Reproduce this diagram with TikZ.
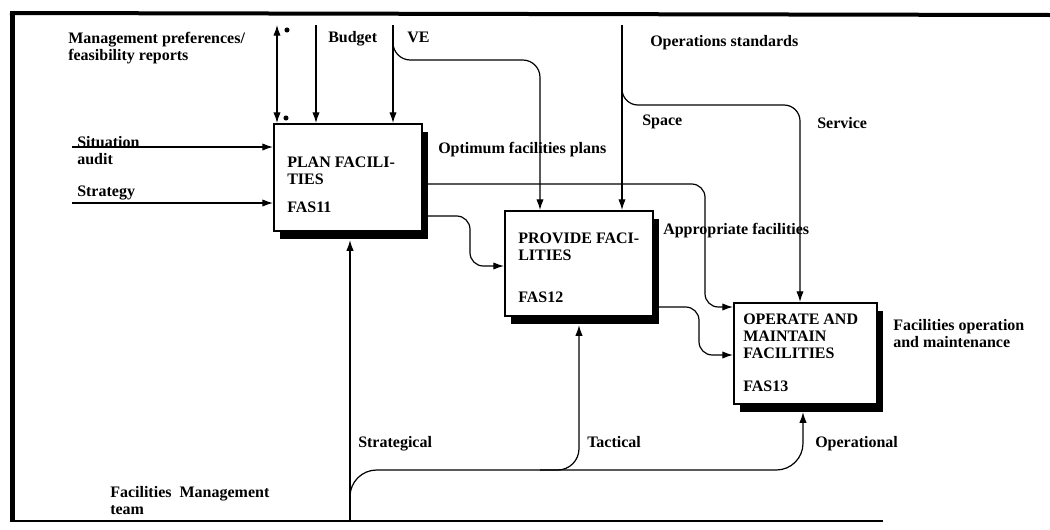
\documentclass[tikz,border=0pt]{standalone}
\usepackage{fontspec}
\setmainfont{Liberation Serif}
\usetikzlibrary{arrows.meta,shadows,calc}
\begin{document}
\begin{tikzpicture}[x=0.75pt,y=-0.75pt,
  lbl/.style={font=\fontsize{12}{12.75}\selectfont\bfseries, anchor=north west, inner sep=0pt, align=left},
  procbox/.style={draw, line width=1.6pt, fill=white, anchor=north west, inner sep=0pt,
     general shadow={fill=black, shadow xshift=4.5pt, shadow yshift=-6pt}},
  arr/.style={line width=0.9pt, -{Latex[length=8pt,width=5.5pt]}},
  darr/.style={line width=0.9pt, {Latex[length=8pt,width=5.5pt]}-{Latex[length=8pt,width=5.5pt]}},
  flow/.style={line width=0.9pt}]
\useasboundingbox (0,0) rectangle (1050,529);
\fill[white] (0,0) rectangle (1050,529);

% frame
\draw[line width=3pt] (10,13) -- (1050,15);
\draw[line width=3.75pt] (12.5,11) -- (12.5,522);
\draw[line width=1.8pt] (10,521) -- (883,521);

% activity boxes
\node[procbox, minimum width=111pt, minimum height=80.25pt] (p11) at (273,123) {};
\node[procbox, minimum width=111pt, minimum height=78.75pt] (p12) at (504,210) {};
\node[procbox, minimum width=107.25pt, minimum height=75.75pt] (p13) at (733,302) {};

% free ends
\coordinate (mpTop) at (277,25);
\coordinate (budTop) at (316,25);
\coordinate (veTop) at (393,25);
\coordinate (opsTop) at (622,25);
\coordinate (sitL) at (72,147);
\coordinate (strL) at (72,203);
\coordinate (fmBot) at (350,522);
\coordinate (veB) at (540,60);
\coordinate (svB) at (800,105);
\coordinate (tcB) at (579,470);
\coordinate (opB) at (803,470);

% controls
\draw[darr] (mpTop) -- (mpTop |- p11.north);
\fill (287,30) circle (1.9pt);
\fill (286,118) circle (1.9pt);
\draw[arr] (budTop) -- (budTop |- p11.north);
\draw[arr] (veTop) -- (veTop |- p11.north);
\draw[arr, rounded corners=13pt] (393,38) -- (393,60) -- (veB) -- (veB |- p12.north);
\draw[arr] (opsTop) -- (opsTop |- p12.north);
\draw[arr, rounded corners=12pt] (622,80) -- (622,105) -- (svB) -- (svB |- p13.north);

% inputs
\draw[arr] (sitL) -- (sitL -| p11.west);
\draw[arr] (strL) -- (strL -| p11.west);

% outputs
\draw[arr, rounded corners=10pt] ($(p11.north east)+(0,61)$) -- (705,184) -- (705,307) -- ($(p13.north west)+(0,5)$);
\draw[arr, rounded corners=10pt] ($(p11.north east)+(0,93)$) -- (470,216) -- (470,266) -- ($(p12.north west)+(0,56)$);
\draw[arr, rounded corners=10pt] ($(p12.north east)+(0,97)$) -- (699,307) -- (699,355) -- ($(p13.north west)+(0,53)$);

% mechanisms
\draw[arr] (fmBot) -- ($(fmBot |- p11.south)+(0,8)$);
\draw[arr, rounded corners=20pt] (350,512) -- (350,470) -- (opB) -- ($(opB |- p13.south)+(0,7)$);
\draw[arr, rounded corners=16pt] (540,470) -- (tcB) -- ($(tcB |- p12.south)+(0,8)$);

% box texts
\node[lbl] (t11) at (287,157) {PLAN FACILI-\\TIES};
\node[lbl] (i11) at (287,202) {FAS11};
\node[lbl] (t12) at (518,233) {PROVIDE FACI-\\LITIES};
\node[lbl] (i12) at (518,292) {FAS12};
\node[lbl] (t13) at (743,314) {OPERATE AND\\MAINTAIN\\FACILITIES};
\node[lbl] (i13) at (743,381) {FAS13};

% labels
\node[lbl] (lmp) at (68,32) {Management preferences/\\feasibility reports};
\node[lbl] (lbud) at (328,31) {Budget};
\node[lbl] (lve) at (407,32) {VE};
\node[lbl] (lops) at (650,35) {Operations standards};
\node[lbl] (lsp) at (642,115) {Space};
\node[lbl] (lsv) at (817,117) {Service};
\node[lbl] (lopt) at (438,142) {Optimum facilities plans};
\node[lbl] (lsit) at (77,136) {Situation\\audit};
\node[lbl] (lstr) at (77,186) {Strategy};
\node[lbl] (lapp) at (663,223) {Appropriate facilities};
\node[lbl] (lfom) at (893,319) {Facilities operation\\and maintenance};
\node[lbl] (lstg) at (358,436) {Strategical};
\node[lbl] (ltac) at (587,436) {Tactical};
\node[lbl] (lopl) at (815,436) {Operational};
\node[lbl] (lfmt) at (110,486) {Facilities\ \ Management\\team};
\end{tikzpicture}
\end{document}
